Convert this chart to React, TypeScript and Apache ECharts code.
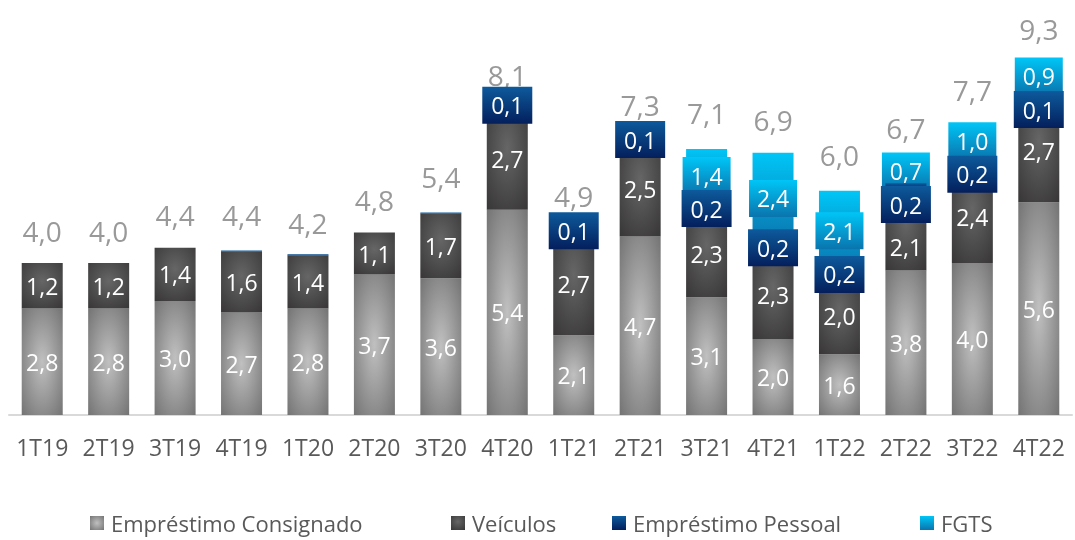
import React, { useEffect, useRef } from "react";
import * as echarts from "echarts";

const categories = ["1T19","2T19","3T19","4T19","1T20","2T20","3T20","4T20","1T21","2T21","3T21","4T21","1T22","2T22","3T22","4T22"];
const consignado = [2.8,2.8,3.0,2.7,2.8,3.7,3.6,5.4,2.1,4.7,3.1,2.0,1.6,3.8,4.0,5.6];
const veiculos = [1.2,1.2,1.4,1.6,1.4,1.1,1.7,2.7,2.7,2.5,2.3,2.3,2.0,2.1,2.4,2.7];
const pessoal = [null,null,null,0.03,0.03,null,0.03,0.1,0.1,0.1,0.2,0.2,0.2,0.2,0.2,0.1];
const fgts = [null,null,null,null,null,null,null,null,null,null,1.4,2.4,2.1,0.7,1.0,0.9];
const totals = [4.0,4.0,4.4,4.4,4.2,4.8,5.4,8.1,4.9,7.3,7.1,6.9,6.0,6.7,7.7,9.3];

const seriesNames = ["Empréstimo Consignado", "Veículos", "Empréstimo Pessoal", "FGTS"];
const legendLeft = [90, 451, 612, 920];

const fmt = (v: number) => v.toFixed(1).replace(".", ",");
const FONT = "Open Sans";
const BOX_H = 38;

// FGTS box top when its segment is shorter than the box
const fgtsBoxTop = (segTop: number, segH: number, boxH: number) =>
  segH < boxH + 6 ? segTop - 4 : segTop + segH / 2 - boxH / 2;

// vertical shift of the Pessoal label box so it sits under the FGTS box
const pessoalShift = (i: number, pTop: number, k: number) => {
  const v = pessoal[i];
  const f = fgts[i];
  if (v == null || f == null) return 0;
  const fH = f * k;
  const fBottom = fgtsBoxTop(pTop - fH, fH, BOX_H) + BOX_H;
  const boxTop = pTop + (v * k) / 2 - BOX_H / 2;
  const overlap = fBottom - boxTop;
  return overlap > 5 ? overlap - 5 : 0;
};

export default function App() {
  const ref = useRef<HTMLDivElement>(null);
  useEffect(() => {
    const chart = echarts.init(ref.current!, undefined, { renderer: "svg" });
    const grayRadial = new echarts.graphic.RadialGradient(0.5, 0.5, 0.75, [
      { offset: 0, color: "#c0c0c0" },
      { offset: 1, color: "#6e6e6e" },
    ]);
    const darkGrad = new echarts.graphic.RadialGradient(0.5, 0.4, 0.8, [
      { offset: 0, color: "#666666" },
      { offset: 1, color: "#363434" },
    ]);
    const blueGrad = () => new echarts.graphic.LinearGradient(0, 0, 0, 1, [
      { offset: 0, color: "#0d5a9c" },
      { offset: 1, color: "#041f5c" },
    ]);
    const cyanGrad = () => new echarts.graphic.LinearGradient(0, 0, 0, 1, [
      { offset: 0, color: "#00c6f7" },
      { offset: 1, color: "#0a74ad" },
    ]);
    const insideLabel = {
      show: true,
      position: "inside",
      color: "#ffffff",
      fontFamily: FONT,
      fontSize: 23,
      formatter: (p: any) => (p.value == null ? "" : fmt(p.value)),
    };

    const pessoalData = pessoal.map((v) =>
      v != null && v < 0.05 ? { value: v, label: { show: false } } : v
    );

    chart.setOption({
      animation: false,
      grid: { left: 9, right: 3, top: 35, bottom: 125 },
      xAxis: {
        type: "category",
        data: categories,
        axisLine: { lineStyle: { color: "#d9d9d9", width: 2 } },
        axisTick: { show: false },
        axisLabel: { color: "#595959", fontSize: 23, fontFamily: FONT, margin: 20, interval: 0 },
      },
      yAxis: { type: "value", min: 0, max: 10, show: false, splitLine: { show: false } },
      legend: seriesNames.map((n, i) => ({
        data: [n],
        left: legendLeft[i],
        top: 512,
        padding: 0,
        itemWidth: 14,
        itemHeight: 14,
        icon: "rect",
        textStyle: { color: "#595959", fontSize: 22, lineHeight: 22, fontFamily: FONT, padding: [0, 0, 0, 2] },
      })),
      series: [
        {
          name: seriesNames[0], type: "bar", stack: "t", barWidth: 41,
          data: consignado, itemStyle: { color: grayRadial }, label: insideLabel,
        },
        {
          name: seriesNames[1], type: "bar", stack: "t", barWidth: 41,
          data: veiculos, itemStyle: { color: darkGrad }, label: insideLabel,
          labelLayout: (p: any) => {
            const i = p.dataIndex;
            const vv = veiculos[i];
            const vp = pessoal[i];
            if (vp == null || vp < 0.05 || !p.rect || p.rect.height <= 0) return {};
            const k = p.rect.height / vv;
            const pTop = p.rect.y - vp * k;
            const boxBottom = pTop + (vp * k) / 2 + BOX_H / 2 + pessoalShift(i, pTop, k);
            const visTop = Math.max(p.rect.y, boxBottom);
            const bottom = p.rect.y + p.rect.height;
            const lblCenter = p.labelRect.y + p.labelRect.height / 2;
            if (p.labelRect.y >= boxBottom) return {};
            return { dy: (visTop + bottom) / 2 - lblCenter };
          },
        },
        {
          name: seriesNames[2], type: "bar", stack: "t", barWidth: 41, z: 4,
          data: pessoalData, itemStyle: { color: blueGrad() },
          label: {
            ...insideLabel,
            backgroundColor: blueGrad(),
            padding: [7, 7],
            width: 36,
            align: "center",
          },
          labelLayout: (p: any) => {
            const i = p.dataIndex;
            const v = pessoal[i];
            if (v == null || !p.rect || p.rect.height <= 0) return {};
            const k = p.rect.height / v;
            const s = pessoalShift(i, p.rect.y, k);
            return s ? { dy: s } : {};
          },
        },
        {
          name: seriesNames[3], type: "bar", stack: "t", barWidth: 41, z: 3,
          data: fgts, itemStyle: { color: cyanGrad() },
          label: {
            ...insideLabel,
            backgroundColor: cyanGrad(),
            padding: [7, 6],
            width: 36,
            align: "center",
          },
          labelLayout: (p: any) => {
            if (!p.rect) return {};
            const top = fgtsBoxTop(p.rect.y, p.rect.height, p.labelRect.height);
            return { dy: top - p.labelRect.y };
          },
        },
        {
          name: "Total", type: "scatter", data: totals, symbolSize: 1, z: 2,
          itemStyle: { color: "rgba(0,0,0,0)" },
          label: {
            show: true, position: "top", distance: 18, color: "#7f7f7f",
            fontSize: 28, fontFamily: FONT,
            formatter: (p: any) => fmt(p.value),
          },
        },
      ],
    });
    return () => chart.dispose();
  }, []);
  return <div ref={ref} style={{ position: "fixed", left: 0, top: 0, width: 1075, height: 540 }} />;
}
